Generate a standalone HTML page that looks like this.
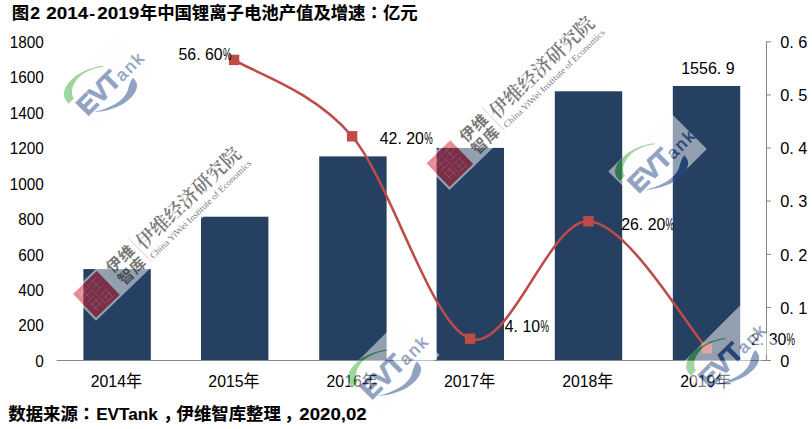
<!DOCTYPE html>
<html lang="zh"><head><meta charset="utf-8"><title>图2 2014-2019年中国锂离子电池产值及增速</title>
<style>
html,body{margin:0;padding:0;background:#fff;}
body{width:812px;height:429px;overflow:hidden;position:relative;}
svg{position:absolute;left:0;top:0;display:block;}
.t{font-family:"Liberation Sans","Noto Sans CJK SC",sans-serif;font-weight:bold;fill:#000;stroke:#000;stroke-width:0.12px;}
.n{font-family:"Liberation Sans","Noto Sans CJK SC",sans-serif;fill:#000;font-size:16.5px;}
.c{font-family:"Liberation Sans","Noto Sans CJK SC",sans-serif;fill:#000;}
.serif{font-family:"Liberation Serif","Noto Serif CJK SC",serif;}
</style></head><body>
<svg width="812" height="429" viewBox="0 0 812 429">
<rect width="812" height="429" fill="#fff"/>
<g class="t" font-size="17.4">
<text x="11.8" y="18.6">图</text>
<text x="30.2" y="18.5" textLength="9.8" lengthAdjust="spacingAndGlyphs">2</text>
<text x="46.3" y="18.5" textLength="42" lengthAdjust="spacingAndGlyphs">2014</text>
<text x="89.2" y="18.5" textLength="5.8" lengthAdjust="spacingAndGlyphs">-</text>
<text x="97.2" y="18.5" textLength="42" lengthAdjust="spacingAndGlyphs">2019</text>
<text x="139.8" y="18.6" textLength="225.7" lengthAdjust="spacing">年中国锂离子电池产值及增速</text>
<text x="365.5" y="18.6" style="font-family:'Noto Sans CJK JP',sans-serif">：</text>
<text x="382.9" y="18.6" textLength="34.7" lengthAdjust="spacing">亿元</text>
</g>
<rect x="83.4" y="269.1" width="67.4" height="91.4" fill="#254061"/>
<rect x="201.0" y="216.7" width="67.4" height="143.8" fill="#254061"/>
<rect x="319.2" y="156.4" width="67.4" height="204.1" fill="#254061"/>
<rect x="436.6" y="147.9" width="67.4" height="212.6" fill="#254061"/>
<rect x="554.8" y="91.3" width="67.4" height="269.2" fill="#254061"/>
<rect x="672.8" y="86.0" width="67.4" height="274.5" fill="#254061"/>
<g stroke="#868686" stroke-width="1" fill="none">
<line x1="56.6" y1="360.5" x2="766.5" y2="360.5"/>
<line x1="766.5" y1="41.3" x2="766.5" y2="361.0"/>
<line x1="766.5" y1="360.5" x2="771" y2="360.5"/>
<line x1="766.5" y1="307.4" x2="771" y2="307.4"/>
<line x1="766.5" y1="254.3" x2="771" y2="254.3"/>
<line x1="766.5" y1="201.1" x2="771" y2="201.1"/>
<line x1="766.5" y1="148.0" x2="771" y2="148.0"/>
<line x1="766.5" y1="94.9" x2="771" y2="94.9"/>
<line x1="766.5" y1="41.8" x2="771" y2="41.8"/>
</g>
<text class="n" transform="translate(43.9,48.0) scale(0.93,1)" text-anchor="end">1800</text>
<text class="n" transform="translate(43.9,83.4) scale(0.93,1)" text-anchor="end">1600</text>
<text class="n" transform="translate(43.9,118.8) scale(0.93,1)" text-anchor="end">1400</text>
<text class="n" transform="translate(43.9,154.2) scale(0.93,1)" text-anchor="end">1200</text>
<text class="n" transform="translate(43.9,189.6) scale(0.93,1)" text-anchor="end">1000</text>
<text class="n" transform="translate(43.9,225.1) scale(0.93,1)" text-anchor="end">800</text>
<text class="n" transform="translate(43.9,260.5) scale(0.93,1)" text-anchor="end">600</text>
<text class="n" transform="translate(43.9,295.9) scale(0.93,1)" text-anchor="end">400</text>
<text class="n" transform="translate(43.9,331.3) scale(0.93,1)" text-anchor="end">200</text>
<text class="n" transform="translate(43.9,366.7) scale(0.93,1)" text-anchor="end">0</text>
<text class="n" transform="translate(780.2,48.0) scale(0.99,1)" text-anchor="start">0. 6</text>
<text class="n" transform="translate(780.2,101.1) scale(0.99,1)" text-anchor="start">0. 5</text>
<text class="n" transform="translate(780.2,154.2) scale(0.99,1)" text-anchor="start">0. 4</text>
<text class="n" transform="translate(780.2,207.4) scale(0.99,1)" text-anchor="start">0. 3</text>
<text class="n" transform="translate(780.2,260.5) scale(0.99,1)" text-anchor="start">0. 2</text>
<text class="n" transform="translate(780.2,313.6) scale(0.99,1)" text-anchor="start">0. 1</text>
<text class="n" transform="translate(780.2,366.7) scale(0.99,1)" text-anchor="start">0</text>
<text class="n" transform="translate(116.3,387.3) scale(0.96,1)" text-anchor="middle">2014<tspan font-size="16.6">年</tspan></text>
<text class="n" transform="translate(233.9,387.3) scale(0.96,1)" text-anchor="middle">2015<tspan font-size="16.6">年</tspan></text>
<text class="n" transform="translate(352.1,387.3) scale(0.96,1)" text-anchor="middle">2016<tspan font-size="16.6">年</tspan></text>
<text class="n" transform="translate(469.5,387.3) scale(0.96,1)" text-anchor="middle">2017<tspan font-size="16.6">年</tspan></text>
<text class="n" transform="translate(587.7,387.3) scale(0.96,1)" text-anchor="middle">2018<tspan font-size="16.6">年</tspan></text>
<text class="n" transform="translate(705.7,387.3) scale(0.96,1)" text-anchor="middle">2019<tspan font-size="16.6">年</tspan></text>
<path d="M234.1,59.9 C253.8,72.6 312.8,89.9 352.1,136.3 C391.4,182.8 430.7,324.6 470.1,338.7 C509.5,352.9 549.0,219.7 588.4,221.3 C627.8,222.9 687.1,327.1 706.8,348.3" fill="none" stroke="#be4b48" stroke-width="2.5" stroke-linecap="round"/>
<rect x="228.9" y="54.7" width="10.4" height="10.4" fill="#be4b48"/>
<rect x="346.9" y="131.1" width="10.4" height="10.4" fill="#be4b48"/>
<rect x="464.9" y="333.5" width="10.4" height="10.4" fill="#be4b48"/>
<rect x="583.2" y="216.1" width="10.4" height="10.4" fill="#be4b48"/>
<rect x="701.6" y="343.1" width="10.4" height="10.4" fill="#be4b48"/>
<text class="n" transform="translate(178.5,60.3) scale(0.962,1)" text-anchor="start">56. 60</text>
<text class="n" transform="translate(222.9,60.3) scale(0.58,1)" text-anchor="start">%</text>
<text class="n" transform="translate(379.8,143.9) scale(0.962,1)" text-anchor="start">42. 20</text>
<text class="n" transform="translate(424.2,143.9) scale(0.58,1)" text-anchor="start">%</text>
<text class="n" transform="translate(504.8,331.8) scale(0.962,1)" text-anchor="start">4. 10</text>
<text class="n" transform="translate(540.4,331.8) scale(0.58,1)" text-anchor="start">%</text>
<text class="n" transform="translate(621.2,229.7) scale(0.962,1)" text-anchor="start">26. 20</text>
<text class="n" transform="translate(665.6,229.7) scale(0.58,1)" text-anchor="start">%</text>
<text class="n" transform="translate(751.0,345.3) scale(0.962,1)" text-anchor="start">2. 30</text>
<text class="n" transform="translate(786.6,345.3) scale(0.58,1)" text-anchor="start">%</text>
<text class="n" transform="translate(681.2,74.2) scale(0.972,1)" text-anchor="start">1556. 9</text>
<g transform="translate(96.4,294.4) rotate(-44)" opacity="0.5">
<rect x="-18.7" y="-18.7" width="232" height="37.4" fill="#ffffff"/>
<rect x="-16.5" y="-16.5" width="33" height="33" fill="#d21e2d"/>
<g stroke="#fff" stroke-opacity="0.32" stroke-width="0.9" fill="none">
<path d="M-12,-11H-2 M-12,-6H-2 M-7,-13V-1 M-12,-1H-2 M2,-12H12 M2,-7H12 M7,-13V-2 M3,-2H12 M-12,4H-2 M-12,9H-2 M-10,2V13 M-4,2V13 M2,3H12 M2,8H12 M2,13H12 M5,3V13 M10,3V13 M0,-14V14"/>
</g>
<line x1="62.3" y1="-18" x2="62.3" y2="14.5" stroke="#e03a3a" stroke-width="0.6"/>
</g>
<g transform="translate(96.4,294.4) rotate(-44)" opacity="0.6" fill="#1c1c1c">
<g font-family="Liberation Sans,Noto Sans CJK SC,sans-serif" font-weight="bold" font-size="15.6">
<text x="25.8" y="-3.4">伊</text><text x="42.2" y="-3.4">维</text>
<text x="25.8" y="13.4">智</text><text x="42.2" y="13.4">库</text>
</g>
<text x="64.8" y="1.3" font-family="Liberation Serif,Noto Serif CJK SC,serif" font-weight="600" font-size="19.4" textLength="136.5" lengthAdjust="spacing">伊维经济研究院</text>
<text x="65.5" y="14.2" font-family="Liberation Serif,serif" font-size="9" textLength="137" lengthAdjust="spacingAndGlyphs">China YiWei Institute of Economics</text>
</g>
<g transform="translate(449.9,163.6) rotate(-44)" opacity="0.5">
<rect x="-18.7" y="-18.7" width="232" height="37.4" fill="#ffffff"/>
<rect x="-16.5" y="-16.5" width="33" height="33" fill="#d21e2d"/>
<g stroke="#fff" stroke-opacity="0.32" stroke-width="0.9" fill="none">
<path d="M-12,-11H-2 M-12,-6H-2 M-7,-13V-1 M-12,-1H-2 M2,-12H12 M2,-7H12 M7,-13V-2 M3,-2H12 M-12,4H-2 M-12,9H-2 M-10,2V13 M-4,2V13 M2,3H12 M2,8H12 M2,13H12 M5,3V13 M10,3V13 M0,-14V14"/>
</g>
<line x1="62.3" y1="-18" x2="62.3" y2="14.5" stroke="#e03a3a" stroke-width="0.6"/>
</g>
<g transform="translate(449.9,163.6) rotate(-44)" opacity="0.6" fill="#1c1c1c">
<g font-family="Liberation Sans,Noto Sans CJK SC,sans-serif" font-weight="bold" font-size="15.6">
<text x="25.8" y="-3.4">伊</text><text x="42.2" y="-3.4">维</text>
<text x="25.8" y="13.4">智</text><text x="42.2" y="13.4">库</text>
</g>
<text x="64.8" y="1.3" font-family="Liberation Serif,Noto Serif CJK SC,serif" font-weight="600" font-size="19.4" textLength="136.5" lengthAdjust="spacing">伊维经济研究院</text>
<text x="65.5" y="14.2" font-family="Liberation Serif,serif" font-size="9" textLength="137" lengthAdjust="spacingAndGlyphs">China YiWei Institute of Economics</text>
</g>
<g transform="translate(106.4,82.65) rotate(-45)" opacity="0.5">
<rect x="-42.8" y="-26.85" width="85.6" height="53.7" fill="#fefefe"/>
<path d="M-41.3,-11.9 C-41.2,-12.8 -41.3,-15.7 -40.8,-17.3 C-40.3,-18.9 -39.6,-20.4 -38.3,-21.7 C-37.0,-23.0 -35.2,-24.4 -32.9,-25.2 C-30.6,-26.0 -27.7,-26.6 -24.5,-26.7 C-21.3,-26.8 -17.1,-26.4 -13.6,-25.7 C-10.0,-24.9 -6.4,-23.6 -3.2,-22.2 C0.0,-20.8 3.5,-18.7 5.7,-17.3 C7.9,-15.9 9.3,-14.2 10.0,-13.6 L9.7,-13.3 C8.0,-14.3 3.2,-17.7 -0.2,-19.3 C-3.6,-20.9 -7.2,-22.1 -10.6,-22.7 C-14.0,-23.3 -17.5,-23.2 -20.5,-22.7 C-23.5,-22.2 -26.3,-21.0 -28.4,-19.8 C-30.5,-18.6 -31.9,-16.6 -32.9,-15.3 C-33.9,-14.0 -34.1,-12.5 -34.3,-11.9 Z" fill="#3fae3f"/>
<path d="M22.4,15.4 C22.2,16.3 22.2,19.2 21.5,20.8 C20.8,22.4 19.9,23.6 18.4,24.7 C16.9,25.8 14.7,26.9 12.3,27.4 C9.9,27.9 7.0,28.1 3.9,27.9 C0.8,27.7 -2.6,27.1 -6.0,26.0 C-9.4,24.9 -13.3,23.1 -16.4,21.5 C-19.5,19.9 -22.5,17.8 -24.8,16.1 C-27.1,14.5 -29.3,12.3 -30.2,11.6 L-30.2,11.6 C-28.5,12.6 -23.4,15.7 -20.0,17.3 C-16.6,18.9 -13.2,20.1 -10.0,21.0 C-6.8,21.9 -3.5,22.4 -0.6,22.5 C2.3,22.6 5.0,22.2 7.3,21.5 C9.6,20.8 11.4,19.4 13.3,18.5 C15.2,17.6 17.2,16.6 18.7,16.1 C20.2,15.6 21.8,15.5 22.4,15.4 Z" fill="#284886"/>
<text x="-37.6" y="10.6" font-family="Liberation Sans,sans-serif" font-weight="bold" font-size="26.3" letter-spacing="-0.8" fill="#284886" stroke="#284886" stroke-width="0.9">EVT</text>
<text x="11.4" y="10.9" font-family="Liberation Sans,sans-serif" font-size="17" letter-spacing="2.2" fill="#284886" stroke="#284886" stroke-width="0.45">ank</text>
<circle cx="35.7" cy="0.6" r="1.2" fill="#3fae3f"/>
</g>
<g transform="translate(657.55,160.25) rotate(-45)" opacity="0.5">
<rect x="-42.8" y="-26.85" width="85.6" height="53.7" fill="#fefefe"/>
<path d="M-41.3,-11.9 C-41.2,-12.8 -41.3,-15.7 -40.8,-17.3 C-40.3,-18.9 -39.6,-20.4 -38.3,-21.7 C-37.0,-23.0 -35.2,-24.4 -32.9,-25.2 C-30.6,-26.0 -27.7,-26.6 -24.5,-26.7 C-21.3,-26.8 -17.1,-26.4 -13.6,-25.7 C-10.0,-24.9 -6.4,-23.6 -3.2,-22.2 C0.0,-20.8 3.5,-18.7 5.7,-17.3 C7.9,-15.9 9.3,-14.2 10.0,-13.6 L9.7,-13.3 C8.0,-14.3 3.2,-17.7 -0.2,-19.3 C-3.6,-20.9 -7.2,-22.1 -10.6,-22.7 C-14.0,-23.3 -17.5,-23.2 -20.5,-22.7 C-23.5,-22.2 -26.3,-21.0 -28.4,-19.8 C-30.5,-18.6 -31.9,-16.6 -32.9,-15.3 C-33.9,-14.0 -34.1,-12.5 -34.3,-11.9 Z" fill="#3fae3f"/>
<path d="M22.4,15.4 C22.2,16.3 22.2,19.2 21.5,20.8 C20.8,22.4 19.9,23.6 18.4,24.7 C16.9,25.8 14.7,26.9 12.3,27.4 C9.9,27.9 7.0,28.1 3.9,27.9 C0.8,27.7 -2.6,27.1 -6.0,26.0 C-9.4,24.9 -13.3,23.1 -16.4,21.5 C-19.5,19.9 -22.5,17.8 -24.8,16.1 C-27.1,14.5 -29.3,12.3 -30.2,11.6 L-30.2,11.6 C-28.5,12.6 -23.4,15.7 -20.0,17.3 C-16.6,18.9 -13.2,20.1 -10.0,21.0 C-6.8,21.9 -3.5,22.4 -0.6,22.5 C2.3,22.6 5.0,22.2 7.3,21.5 C9.6,20.8 11.4,19.4 13.3,18.5 C15.2,17.6 17.2,16.6 18.7,16.1 C20.2,15.6 21.8,15.5 22.4,15.4 Z" fill="#284886"/>
<text x="-37.6" y="10.6" font-family="Liberation Sans,sans-serif" font-weight="bold" font-size="26.3" letter-spacing="-0.8" fill="#284886" stroke="#284886" stroke-width="0.9">EVT</text>
<text x="11.4" y="10.9" font-family="Liberation Sans,sans-serif" font-size="17" letter-spacing="2.2" fill="#284886" stroke="#284886" stroke-width="0.45">ank</text>
<circle cx="35.7" cy="0.6" r="1.2" fill="#3fae3f"/>
</g>
<g transform="translate(390.4,366.4) rotate(-45)" opacity="0.5">
<rect x="-42.8" y="-26.85" width="85.6" height="53.7" fill="#fefefe"/>
<path d="M-41.3,-11.9 C-41.2,-12.8 -41.3,-15.7 -40.8,-17.3 C-40.3,-18.9 -39.6,-20.4 -38.3,-21.7 C-37.0,-23.0 -35.2,-24.4 -32.9,-25.2 C-30.6,-26.0 -27.7,-26.6 -24.5,-26.7 C-21.3,-26.8 -17.1,-26.4 -13.6,-25.7 C-10.0,-24.9 -6.4,-23.6 -3.2,-22.2 C0.0,-20.8 3.5,-18.7 5.7,-17.3 C7.9,-15.9 9.3,-14.2 10.0,-13.6 L9.7,-13.3 C8.0,-14.3 3.2,-17.7 -0.2,-19.3 C-3.6,-20.9 -7.2,-22.1 -10.6,-22.7 C-14.0,-23.3 -17.5,-23.2 -20.5,-22.7 C-23.5,-22.2 -26.3,-21.0 -28.4,-19.8 C-30.5,-18.6 -31.9,-16.6 -32.9,-15.3 C-33.9,-14.0 -34.1,-12.5 -34.3,-11.9 Z" fill="#3fae3f"/>
<path d="M22.4,15.4 C22.2,16.3 22.2,19.2 21.5,20.8 C20.8,22.4 19.9,23.6 18.4,24.7 C16.9,25.8 14.7,26.9 12.3,27.4 C9.9,27.9 7.0,28.1 3.9,27.9 C0.8,27.7 -2.6,27.1 -6.0,26.0 C-9.4,24.9 -13.3,23.1 -16.4,21.5 C-19.5,19.9 -22.5,17.8 -24.8,16.1 C-27.1,14.5 -29.3,12.3 -30.2,11.6 L-30.2,11.6 C-28.5,12.6 -23.4,15.7 -20.0,17.3 C-16.6,18.9 -13.2,20.1 -10.0,21.0 C-6.8,21.9 -3.5,22.4 -0.6,22.5 C2.3,22.6 5.0,22.2 7.3,21.5 C9.6,20.8 11.4,19.4 13.3,18.5 C15.2,17.6 17.2,16.6 18.7,16.1 C20.2,15.6 21.8,15.5 22.4,15.4 Z" fill="#284886"/>
<text x="-37.6" y="10.6" font-family="Liberation Sans,sans-serif" font-weight="bold" font-size="26.3" letter-spacing="-0.8" fill="#284886" stroke="#284886" stroke-width="0.9">EVT</text>
<text x="11.4" y="10.9" font-family="Liberation Sans,sans-serif" font-size="17" letter-spacing="2.2" fill="#284886" stroke="#284886" stroke-width="0.45">ank</text>
<circle cx="35.7" cy="0.6" r="1.2" fill="#3fae3f"/>
</g>
<g transform="translate(728.6,354.9) rotate(-45)" opacity="0.5">
<rect x="-42.8" y="-26.85" width="85.6" height="53.7" fill="#fefefe"/>
<path d="M-41.3,-11.9 C-41.2,-12.8 -41.3,-15.7 -40.8,-17.3 C-40.3,-18.9 -39.6,-20.4 -38.3,-21.7 C-37.0,-23.0 -35.2,-24.4 -32.9,-25.2 C-30.6,-26.0 -27.7,-26.6 -24.5,-26.7 C-21.3,-26.8 -17.1,-26.4 -13.6,-25.7 C-10.0,-24.9 -6.4,-23.6 -3.2,-22.2 C0.0,-20.8 3.5,-18.7 5.7,-17.3 C7.9,-15.9 9.3,-14.2 10.0,-13.6 L9.7,-13.3 C8.0,-14.3 3.2,-17.7 -0.2,-19.3 C-3.6,-20.9 -7.2,-22.1 -10.6,-22.7 C-14.0,-23.3 -17.5,-23.2 -20.5,-22.7 C-23.5,-22.2 -26.3,-21.0 -28.4,-19.8 C-30.5,-18.6 -31.9,-16.6 -32.9,-15.3 C-33.9,-14.0 -34.1,-12.5 -34.3,-11.9 Z" fill="#3fae3f"/>
<path d="M22.4,15.4 C22.2,16.3 22.2,19.2 21.5,20.8 C20.8,22.4 19.9,23.6 18.4,24.7 C16.9,25.8 14.7,26.9 12.3,27.4 C9.9,27.9 7.0,28.1 3.9,27.9 C0.8,27.7 -2.6,27.1 -6.0,26.0 C-9.4,24.9 -13.3,23.1 -16.4,21.5 C-19.5,19.9 -22.5,17.8 -24.8,16.1 C-27.1,14.5 -29.3,12.3 -30.2,11.6 L-30.2,11.6 C-28.5,12.6 -23.4,15.7 -20.0,17.3 C-16.6,18.9 -13.2,20.1 -10.0,21.0 C-6.8,21.9 -3.5,22.4 -0.6,22.5 C2.3,22.6 5.0,22.2 7.3,21.5 C9.6,20.8 11.4,19.4 13.3,18.5 C15.2,17.6 17.2,16.6 18.7,16.1 C20.2,15.6 21.8,15.5 22.4,15.4 Z" fill="#284886"/>
<text x="-37.6" y="10.6" font-family="Liberation Sans,sans-serif" font-weight="bold" font-size="26.3" letter-spacing="-0.8" fill="#284886" stroke="#284886" stroke-width="0.9">EVT</text>
<text x="11.4" y="10.9" font-family="Liberation Sans,sans-serif" font-size="17" letter-spacing="2.2" fill="#284886" stroke="#284886" stroke-width="0.45">ank</text>
<circle cx="35.7" cy="0.6" r="1.2" fill="#3fae3f"/>
</g>
<g class="t" font-size="17.4">
<text x="8.3" y="420.3" textLength="69.6" lengthAdjust="spacing">数据来源</text>
<text x="77.7" y="420.3" style="font-family:'Noto Sans CJK JP',sans-serif">：</text>
<text x="96.2" y="420.1" textLength="61.5" lengthAdjust="spacingAndGlyphs">EVTank</text>
<text x="163.3" y="420.3">，</text>
<text x="176.5" y="420.3" textLength="104.4" lengthAdjust="spacing">伊维智库整理</text>
<text x="284.2" y="420.3">，</text>
<text x="299.3" y="420.1" textLength="67.4" lengthAdjust="spacingAndGlyphs">2020,02</text>
</g>
</svg></body></html>
